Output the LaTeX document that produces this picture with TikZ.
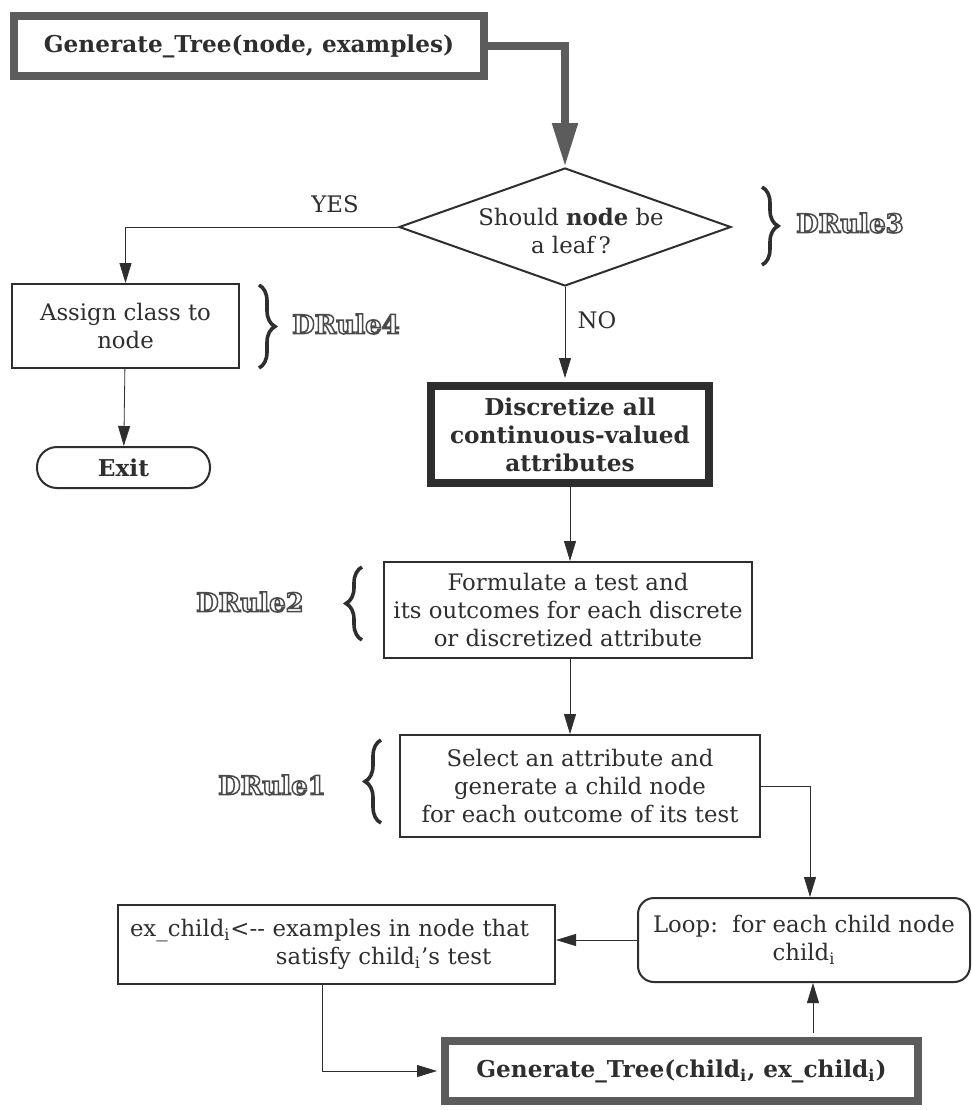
\documentclass[tikz,border=0pt]{standalone}
\usepackage{fontspec}
\setmainfont{DejaVu Serif}
\usetikzlibrary{arrows.meta,calc,positioning,shapes.geometric,decorations.pathreplacing}
\definecolor{ink}{HTML}{2E2E2E}
\definecolor{hatch}{HTML}{5C5C5C}
\definecolor{rulegray}{HTML}{4A4A4A}
\newcommand\hollow[1]{\special{pdf:literal direct 1 Tr 0.75 w}#1\special{pdf:literal direct 0 Tr}}
\tikzset{>={Triangle[length=10pt,width=6pt]},line width=1pt,
  every node/.style={font=\fontsize{11.4}{14}\selectfont,text=ink},
  flow/.style={->,draw=ink},
  bigflow/.style={-{Triangle[length=22pt,width=12pt]},draw=hatch,line width=4pt},
  box/.style={draw=ink,line width=1pt,inner sep=0pt,align=center},
  termbox/.style={box,rounded corners=10pt},
  callbox/.style={draw=hatch,line width=4pt,inner sep=0pt,font=\fontsize{11.6}{13}\selectfont\bfseries},
  boldbox/.style={draw=ink,line width=4pt,inner sep=0pt,align=center,font=\fontsize{11.6}{14}\selectfont\bfseries},
  decision/.style={diamond,draw=ink,line width=1pt,inner sep=0pt},
  rulebrace/.style={decorate,decoration={brace,amplitude=8pt},draw=ink,line width=1.8pt},
  rulename/.style={font=\fontsize{13}{15}\selectfont\bfseries,text=rulegray}}

\begin{document}
\begin{tikzpicture}[x=.5pt,y=-.5pt]
\useasboundingbox (0,0) rectangle (972,1110);
\node[callbox,minimum width=235pt,minimum height=30pt] (gen) at (249,46) {Generate\_Tree(node, examples)};
\node[decision,minimum width=166pt,minimum height=59pt] (leaf) at (565,227) {};
\node[align=center] (leaftxt) at (571,231) {Should \textbf{node} be\\a leaf\,?};
\node[box,minimum width=113.5pt,minimum height=42pt] (assign) at (125.5,326) {Assign class to\\node};
\node[termbox,minimum width=86.5pt,minimum height=20.5pt,font=\fontsize{11.6}{13}\selectfont\bfseries] (exit) at (123.5,467.5) {Exit};
\node[boldbox,minimum width=139pt,minimum height=48.5pt] (disc) at (570,434.5) {Discretize all\\continuous-valued\\attributes};
\node[box,minimum width=184pt,minimum height=48pt] (form) at (568,610) {Formulate a test and\\its outcomes for each discrete\\or discretized attribute};
\node[box,minimum width=180pt,minimum height=51pt] (sel) at (580,786) {Select an attribute and\\generate a child node\\for each outcome of its test};
\node[termbox,rounded corners=8pt,minimum width=166pt,minimum height=42pt] (loop) at (804,940) {Loop:\ \ for each child node\\child\textsubscript{i}};
\node[box,align=left,text width=206.5pt,inner xsep=6pt,minimum height=39.5pt] (exch) at (336.5,944.5) {ex\_child\textsubscript{i}<{-}{-} examples in node that\\\hspace*{73pt}satisfy child\textsubscript{i}'s test};
\node[callbox,minimum width=236.5pt,minimum height=30pt] (gen2) at (681.5,1071) {Generate\_Tree(child\textsubscript{i}, ex\_child\textsubscript{i})};
% rule labels
\node[rulename] (r3) at (850,223) {\hollow{DRule3}};
\node[rulename] (r4) at (346,324) {\hollow{DRule4}};
\node[rulename] (r2) at (250,602) {\hollow{DRule2}};
\node[rulename] (r1) at (272,785) {\hollow{DRule1}};
\draw[rulebrace] (762,187) -- (762,265);
\draw[rulebrace] (259,285) -- (259,368);
\draw[rulebrace] (362,640) -- (362,567);
\draw[rulebrace] (381,823) -- (381,740);
% connectors
\coordinate (loopin) at ([xshift=3pt]loop.north);
\coordinate (loopup) at ([xshift=4.5pt]loop.south);
\draw[bigflow] (gen.east) -| (leaf.north);
\node (yes) at (335,204) {YES};
\draw[flow] (leaf.west) -| (assign.north);
\draw[flow] (assign) -- (exit);
\node (no) at (597,320) {NO};
\draw[flow,shorten >=2pt] (leaf.south) -- (leaf.south |- disc.north);
\draw[flow] (disc.south) -- (disc.south |- form.north);
\draw[flow] (disc.south |- form.south) -- (disc.south |- sel.north);
\draw[flow] (sel.east) -| (loopin);
\draw[flow] (loop.west) -- (loop.west -| exch.east);
\draw[flow,shorten >=2pt] ([xshift=-7pt]exch.south) |- (gen2.west);
\draw[flow,shorten <=2pt] (loopup |- gen2.north) -- (loopup);
\end{tikzpicture}
\end{document}
